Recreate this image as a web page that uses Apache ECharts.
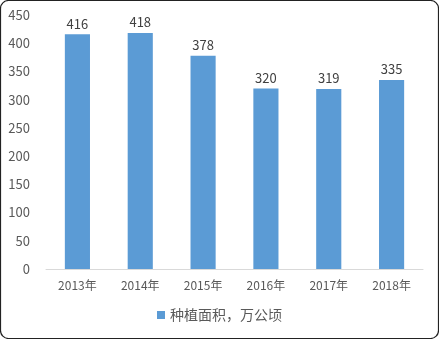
<!DOCTYPE html>
<html><head><meta charset="utf-8">
<script src="https://cdn.jsdelivr.net/npm/echarts@6/dist/echarts.min.js"></script>
<style>html,body{margin:0;padding:0;background:#fff}#c{width:439px;height:339px}</style>
</head><body><div id="c"></div>
<script>
const categories = ['2013年','2014年','2015年','2016年','2017年','2018年'];
const values = [416, 418, 378, 320, 319, 335];
const seriesName = '种植面积，万公顷';
const yTicks = {min: 0, max: 450, interval: 50};

const chart = echarts.init(document.getElementById('c'), null, {renderer: 'canvas'});
const font = '"Microsoft YaHei","Noto Sans CJK SC",sans-serif';
chart.setOption({
  animation: false,
  backgroundColor: '#fff',
  textStyle: {fontFamily: font},
  graphic: [{type: 'rect', shape: {x: 0.5, y: 0.5, width: 438, height: 338, r: 8}, style: {fill: 'none', stroke: '#222', lineWidth: 1.2}, z: 100}],
  grid: {left: 46, right: 16, top: 15, bottom: 70},
  legend: {bottom: 12, left: 'center', itemWidth: 8, itemHeight: 8, itemGap: 4,
    icon: 'rect', textStyle: {color: '#595959', fontSize: 14, fontFamily: font}},
  xAxis: {type: 'category', data: categories,
    axisLine: {lineStyle: {color: '#d9d9d9', width: 1}}, axisTick: {show: false},
    axisLabel: {color: '#595959', fontSize: 12, margin: 10, fontFamily: font}},
  yAxis: {type: 'value', min: yTicks.min, max: yTicks.max, interval: yTicks.interval,
    splitLine: {show: false}, axisLine: {show: false}, axisTick: {show: false},
    axisLabel: {color: '#595959', fontSize: 13, margin: 16, fontFamily: font}},
  series: [{name: seriesName, type: 'bar', data: values, barWidth: '40%',
    itemStyle: {color: '#5b9bd5'},
    label: {show: true, position: 'top', color: '#404040', fontSize: 13, distance: 4, fontFamily: font}}]
});
</script></body></html>
